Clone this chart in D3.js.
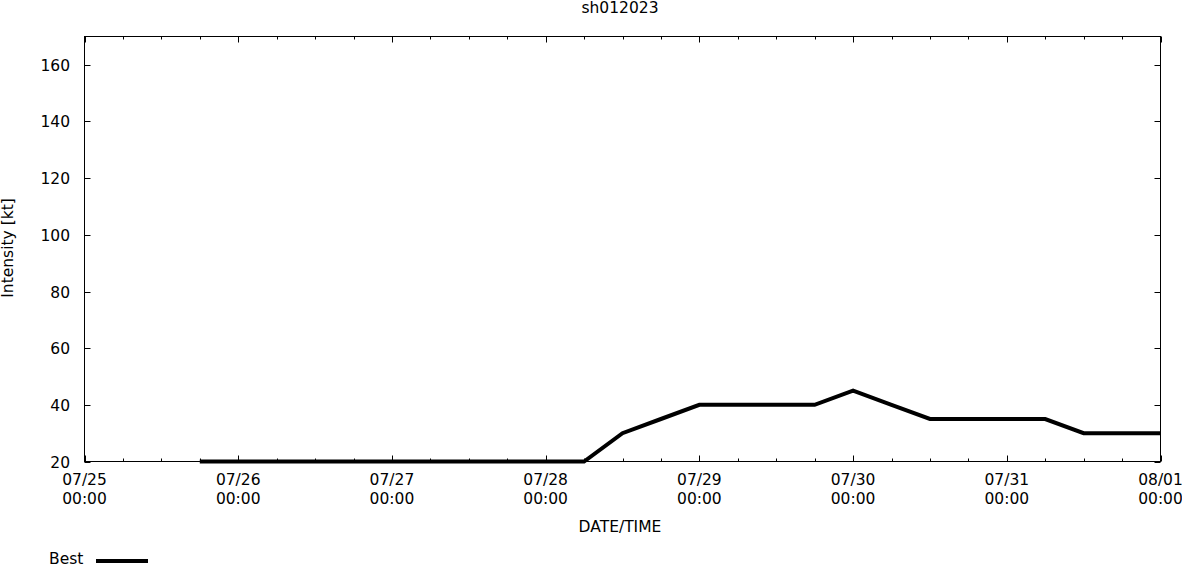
<!DOCTYPE html>
<html><head><meta charset="utf-8">
<script src="https://cdn.jsdelivr.net/npm/d3@7"></script>
<style>body{margin:0;background:#fff}svg{display:block}text{font-family:"DejaVu Sans",sans-serif;fill:#000}</style>
</head><body><svg id="c" width="1182" height="567"></svg>
<script>
const title = "sh012023";
const times = ["2023-07-25T18:00","2023-07-26T00:00","2023-07-26T06:00","2023-07-26T12:00","2023-07-26T18:00",
 "2023-07-27T00:00","2023-07-27T06:00","2023-07-27T12:00","2023-07-27T18:00",
 "2023-07-28T00:00","2023-07-28T06:00","2023-07-28T12:00","2023-07-28T18:00",
 "2023-07-29T00:00","2023-07-29T06:00","2023-07-29T12:00","2023-07-29T18:00",
 "2023-07-30T00:00","2023-07-30T06:00","2023-07-30T12:00","2023-07-30T18:00",
 "2023-07-31T00:00","2023-07-31T06:00","2023-07-31T12:00","2023-07-31T18:00","2023-08-01T00:00"];
const best = [20,20,20,20,20, 20,20,20,20, 20,20,30,35, 40,40,40,40, 45,40,35,35, 35,35,30,30,30];
const yTicks = [20,40,60,80,100,120,140,160];
const xStart = "2023-07-25T00:00", xEnd = "2023-08-01T00:00";

const FS = 15.5;
const parse = d3.timeParse("%Y-%m-%dT%H:%M");
const L=84.5, R=1160.5, T=36.5, B=461.5;
const svg = d3.select("#c");
const x = d3.scaleTime().domain([parse(xStart), parse(xEnd)]).range([L,R]);
const y = d3.scaleLinear().domain([20,170]).range([B,T]);

svg.append("rect").attr("x",L).attr("y",T).attr("width",R-L).attr("height",B-T).attr("fill","none").attr("stroke","#000").attr("stroke-width",1);

const minor = d3.timeHour.every(6).range(parse(xStart), d3.timeHour.offset(parse(xEnd),1));
const g = svg.append("g").attr("stroke","#000").attr("stroke-width",1);
minor.forEach(t=>{
  const major = t.getHours()===0;
  const len = major?6:3;
  const xx = Math.round(x(t))+0.5;
  g.append("line").attr("x1",xx).attr("x2",xx).attr("y1",B).attr("y2",B-len);
  g.append("line").attr("x1",xx).attr("x2",xx).attr("y1",T).attr("y2",T+len);
});
yTicks.forEach(v=>{
  const yy = Math.round(y(v))+0.5;
  g.append("line").attr("x1",L).attr("x2",L+6).attr("y1",yy).attr("y2",yy);
  g.append("line").attr("x1",R).attr("x2",R-6).attr("y1",yy).attr("y2",yy);
  svg.append("text").attr("x",70).attr("y",yy+5.5).attr("text-anchor","end").attr("font-size",FS).text(v);
});
const fmtD = d3.timeFormat("%m/%d"), fmtT = d3.timeFormat("%H:%M");
d3.timeDay.range(parse(xStart), d3.timeHour.offset(parse(xEnd),1)).forEach(t=>{
  const xx = x(t);
  svg.append("text").attr("x",xx).attr("y",485).attr("text-anchor","middle").attr("font-size",FS).text(fmtD(t));
  svg.append("text").attr("x",xx).attr("y",504).attr("text-anchor","middle").attr("font-size",FS).text(fmtT(t));
});

svg.append("text").attr("x",620).attr("y",13).attr("text-anchor","middle").attr("font-size",FS).text(title);
svg.append("text").attr("x",620).attr("y",532).attr("text-anchor","middle").attr("font-size",FS).text("DATE/TIME");
svg.append("text").attr("transform","translate(13,248) rotate(-90)").attr("text-anchor","middle").attr("font-size",FS).text("Intensity [kt]");

const line = d3.line().x((d,i)=>x(parse(times[i]))).y(d=>y(d));
svg.append("path").datum(best).attr("d",line).attr("fill","none").attr("stroke","#000").attr("stroke-width",4);

svg.append("text").attr("x",49).attr("y",564).attr("font-size",FS).text("Best");
svg.append("line").attr("x1",96).attr("x2",148).attr("y1",561).attr("y2",561).attr("stroke","#000").attr("stroke-width",4);
</script></body></html>
